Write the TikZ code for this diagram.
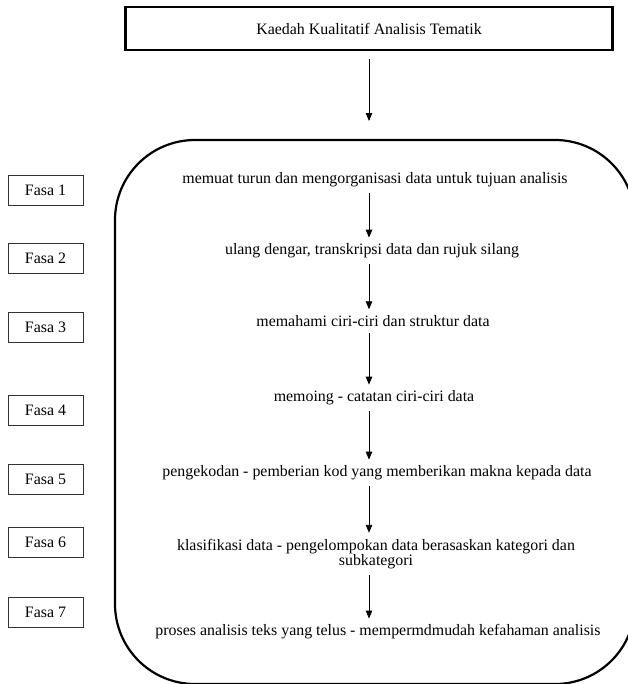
\documentclass[tikz,border=0pt]{standalone}
\usepackage{fontspec}
\setmainfont{Liberation Serif}
\usepackage{tikz}
\usetikzlibrary{arrows}
\tikzset{
    titel/.style={
           rectangle,
           draw=black, line width=2.4pt,
           minimum width=487pt,
           minimum height=43pt,
           text centered},
    fasa/.style={
           rectangle,
           draw=black!80, line width=0.9pt,
           minimum width=75pt,
           minimum height=30pt,
           text centered},
    rahmen/.style={
           rectangle,
           rounded corners=80pt,
           draw=black, line width=2.2pt,
           minimum width=520pt,
           minimum height=544pt},
    schritt/.style={
           inner sep=6pt,
           align=center,
           text centered}
    }

\begin{document}
\begin{tikzpicture}[x=1pt,y=-1pt,font=\fontsize{15.9}{15.5}\selectfont]
      \useasboundingbox (0,0) rectangle (627,684);
      \node[titel] (0) at (369,28.5) {Kaedah Kualitatif Analisis Tematik};
      \node[rahmen] (box) at (375,412) {};
      \node[fasa] (f1) at (45.5,190) {Fasa 1};
      \node[fasa] (f2) at (45.5,258) {Fasa 2};
      \node[fasa] (f3) at (45.5,327) {Fasa 3};
      \node[fasa] (f4) at (45.5,410) {Fasa 4};
      \node[fasa] (f5) at (45.5,479) {Fasa 5};
      \node[fasa] (f6) at (45.5,542) {Fasa 6};
      \node[fasa] (f7) at (45.5,612) {Fasa 7};
      \node[schritt] (1) at (375,180) {memuat turun dan mengorganisasi data untuk tujuan analisis};
      \node[schritt] (2) at (372,251) {ulang dengar, transkripsi data dan rujuk silang};
      \node[schritt] (3) at (373,321) {memahami ciri-ciri dan struktur data};
      \node[schritt] (4) at (374,398) {memoing - catatan ciri-ciri data};
      \node[schritt] (5) at (377,473) {pengekodan - pemberian kod yang memberikan makna kepada data};
      \node[schritt] (6) at (376,554) {klasifikasi data - pengelompokan data berasaskan kategori dan\\subkategori};
      \node[schritt] (7) at (378,632) {proses analisis teks yang telus - mempermdmudah kefahaman analisis};
      \draw[-triangle 45,black,thick,shorten <=8pt,shorten >=18pt] (0) -- (0 |- box.north);
      \draw[-triangle 45,black,thick] (1.south -| 0) -- (2.north -| 0);
      \draw[-triangle 45,black,thick] (2.south -| 0) -- (3.north -| 0);
      \draw[-triangle 45,black,thick] (3.south -| 0) -- (4.north -| 0);
      \draw[-triangle 45,black,thick] (4.south -| 0) -- (5.north -| 0);
      \draw[-triangle 45,black,thick] (5.south -| 0) -- (6.north -| 0);
      \draw[-triangle 45,black,thick] (6.south -| 0) -- (7.north -| 0);
\end{tikzpicture}
\end{document}
